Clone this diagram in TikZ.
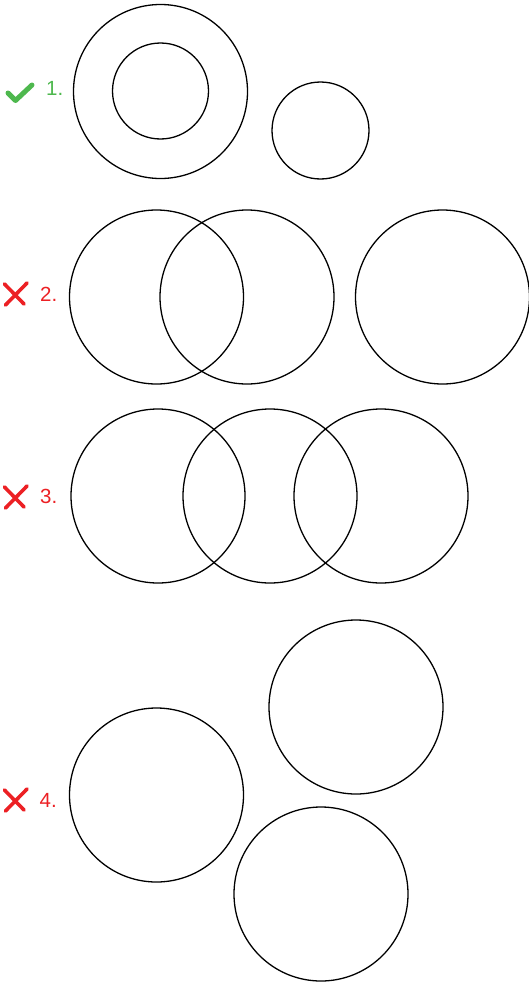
\documentclass[tikz,border=0pt]{standalone}
\usepackage{fontspec}
\setmainfont{Liberation Sans}
\definecolor{okgreen}{RGB}{78,184,78}
\definecolor{badred}{RGB}{236,32,36}
\tikzset{ring/.style={circle,draw,line width=1.3pt,inner sep=0pt,minimum size=174pt}}
\tikzset{smallring/.style={ring,minimum size=96pt}}
\tikzset{num/.style={anchor=west,inner sep=0pt,font=\fontsize{20.5}{20.5}\selectfont}}
\tikzset{okmark/.style={okgreen,line width=5pt,line cap=round,line join=round}}
\tikzset{badmark/.style={badred,line width=3.6pt,line cap=round}}

\begin{document}
\begin{tikzpicture}[x=1pt,y=-1pt]
            \useasboundingbox (0,0) rectangle (529,982);
            % 1.
            \draw[okmark] (8,93) -- (15.5,100.5) -- (32,85);
            \node[num,okgreen] (n1) at (46,88.5) {1.};
            \node[ring] (outer) at (160.5,91.5) {};
            \node[smallring] (inner) at (160.5,91) {};
            \node[smallring,minimum size=97pt] (lone) at (320.5,130.5) {};
            % 2.
            \draw[badmark] (4.5,284) -- (24,304);
            \draw[badmark] (27,283) -- (5.5,305);
            \node[num,badred] (n2) at (40,294.5) {2.};
            \node[ring] (a2) at (156.5,297) {};
            \node[ring] (b2) at (247,297) {};
            \node[ring] (c2) at (442.5,297) {};
            % 3.
            \draw[badmark] (4.5,487) -- (24,507);
            \draw[badmark] (27,486) -- (5.5,508);
            \node[num,badred] (n3) at (40,496.5) {3.};
            \node[ring] (a3) at (158,496) {};
            \node[ring] (b3) at (270,496) {};
            \node[ring] (c3) at (381,496) {};
            % 4.
            \draw[badmark] (4.5,790) -- (24,810);
            \draw[badmark] (27,789) -- (5.5,811);
            \node[num,badred] (n4) at (39.5,800.5) {4.};
            \node[ring] (a4) at (156.5,795) {};
            \node[ring] (b4) at (356,707) {};
            \node[ring] (c4) at (321,894) {};
        \end{tikzpicture}
\end{document}
